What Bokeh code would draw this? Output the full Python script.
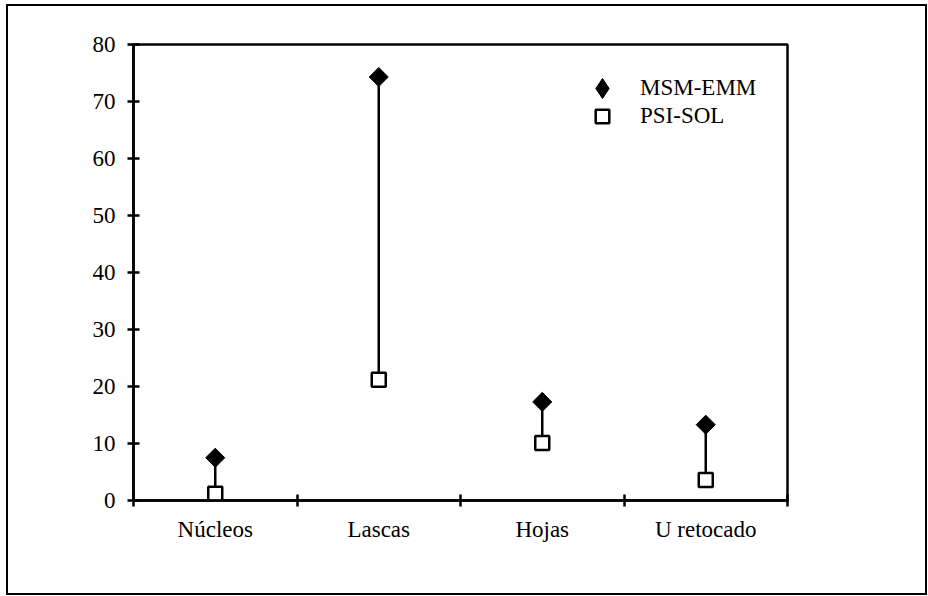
import numpy as np
from bokeh.plotting import figure
from bokeh.models import Range1d, FixedTicker, Legend, LegendItem, InlineStyleSheet
from bokeh.embed import file_html
from bokeh.resources import INLINE

categories = ["Núcleos", "Lascas", "Hojas", "U retocado"]
msm_emm = [7.5, 74.3, 17.3, 13.3]
psi_sol = [1.2, 21.2, 10.1, 3.6]
y_ticks = [0, 10, 20, 30, 40, 50, 60, 70, 80]

xpos = [i + 0.5 for i in range(len(categories))]
FONT = "Liberation Serif"
FSIZE = "23px"
LW = 2.5

frame_css = InlineStyleSheet(css="""
:host { position: relative; }
:host::after {
  content: "";
  position: absolute;
  left: 6px; top: 4px; width: 921px; height: 591px;
  border: 2.5px solid black;
  box-sizing: border-box;
  pointer-events: none;
}
""")

p = figure(width=928, height=596, frame_width=654, frame_height=456,
           min_border_left=133, min_border_right=141, min_border_top=44, min_border_bottom=96,
           x_range=Range1d(0, len(categories)), y_range=Range1d(0, 80),
           output_backend="svg", toolbar_location=None, stylesheets=[frame_css])
p.grid.visible = False
p.outline_line_color = "black"
p.outline_line_width = LW
p.background_fill_color = "white"
p.border_fill_color = "white"

# x axis
xa = p.xaxis[0]
xa.ticker = FixedTicker(ticks=xpos, minor_ticks=list(range(0, len(categories) + 1)))
xa.major_label_overrides = {x: c for x, c in zip(xpos, categories)}
xa.major_tick_in = 0
xa.major_tick_out = 0
xa.minor_tick_in = 6
xa.minor_tick_out = 6
xa.minor_tick_line_width = LW
xa.minor_tick_line_color = "black"
xa.axis_line_width = LW
xa.axis_line_color = "black"
xa.major_label_text_font = FONT
xa.major_label_text_font_size = FSIZE
xa.major_label_text_color = "black"
xa.major_label_standoff = 10

# y axis
ya = p.yaxis[0]
ya.ticker = FixedTicker(ticks=y_ticks)
ya.major_tick_in = 6
ya.major_tick_out = 6
ya.major_tick_line_width = LW
ya.major_tick_line_color = "black"
ya.minor_tick_line_color = None
ya.axis_line_width = LW
ya.axis_line_color = "black"
ya.major_label_text_font = FONT
ya.major_label_text_font_size = FSIZE
ya.major_label_text_color = "black"
ya.major_label_standoff = 12

# connectors
p.segment(x0=xpos, y0=psi_sol, x1=xpos, y1=msm_emm, line_color="black", line_width=LW)

r_msm = p.scatter(x=xpos, y=msm_emm, marker="square", angle=np.pi / 4, size=13.5,
                  fill_color="black", line_color="black", line_width=1)
r_psi = p.scatter(x=xpos, y=psi_sol, marker="square", size=14,
                  fill_color="white", line_color="black", line_width=LW)
# legend-only stand-in (legend glyphs are never rotated)
r_msm_leg = p.scatter(x=xpos, y=msm_emm, marker="diamond", fill_color="black",
                      line_color="black", line_width=1, visible=False)

common = dict(padding=0, margin=0, border_line_alpha=0, background_fill_alpha=0,
              inactive_fill_alpha=0, label_text_font=FONT, label_text_font_size=FSIZE,
              label_text_color="black")
leg1 = Legend(items=[LegendItem(label="MSM-EMM", renderers=[r_msm_leg])],
              location=(444, 387), glyph_width=50, glyph_height=50, label_height=50,
              label_standoff=13, **common)
leg2 = Legend(items=[LegendItem(label="PSI-SOL", renderers=[r_psi])],
              location=(452, 367), glyph_width=34, glyph_height=34, label_height=34,
              label_standoff=21, **common)
p.add_layout(leg1, "center")
p.add_layout(leg2, "center")

open("out.html", "w").write(file_html(p, INLINE))
